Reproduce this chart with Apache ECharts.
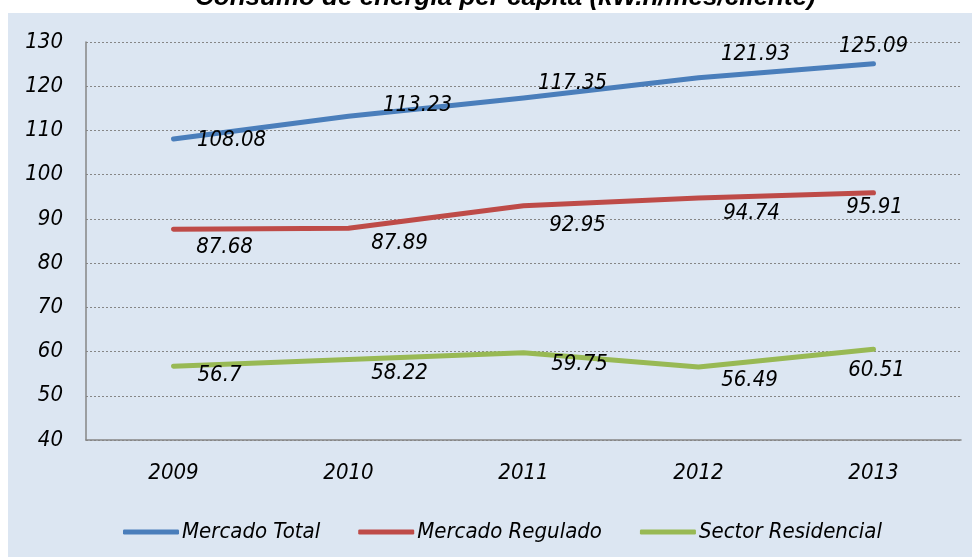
<!DOCTYPE html>
<html>
<head>
<meta charset="utf-8">
<script src="https://cdn.jsdelivr.net/npm/echarts@6/dist/echarts.min.js"></script>
<style>
html,body{margin:0;padding:0;background:#ffffff;}
#chart{width:972px;height:557px;}
</style>
</head>
<body>
<div id="chart"></div>
<script>
const titleText = 'Consumo de energía per cápita (kW.h/mes/cliente)';
const years = ['2009', '2010', '2011', '2012', '2013'];
const seriesNames = ['Mercado Total', 'Mercado Regulado', 'Sector Residencial'];
const mercadoTotal = [108.08, 113.23, 117.35, 121.93, 125.09];
const mercadoRegulado = [87.68, 87.89, 92.95, 94.74, 95.91];
const sectorResidencial = [56.7, 58.22, 59.75, 56.49, 60.51];
const yMin = 40, yMax = 130, yStep = 10;

// label placement (style only)
const labelOffsets = [
  [[58, 1], [69, -11], [49, -15], [57, -23], [0, -17]],
  [[51, 18], [51, 15], [54, 19], [53, 15], [1, 15]],
  [[46, 9], [51, 14], [56, 12], [51, 13], [3, 21]]
];
const colors = ['#4A7EBB', '#BE4B48', '#98B954'];
const FONT = '"DejaVu Sans Condensed", "Liberation Sans Narrow", sans-serif';
const FS = 22;

const allValues = [mercadoTotal, mercadoRegulado, sectorResidencial];

const chart = echarts.init(document.getElementById('chart'), null, {renderer: 'canvas'});

const series = allValues.map((vals, si) => ({
  name: seriesNames[si],
  type: 'line',
  data: vals.map((v, i) => ({
    value: v,
    label: {offset: labelOffsets[si][i]}
  })),
  symbol: 'circle',
  symbolSize: 0.5,
  showSymbol: true,
  itemStyle: {color: colors[si]},
  lineStyle: {color: colors[si], width: 5, cap: 'round', join: 'round'},
  label: {
    show: true,
    position: 'inside',
    align: 'center',
    verticalAlign: 'middle',
    fontFamily: FONT,
    fontStyle: 'italic',
    fontSize: FS,
    color: '#000000',
    formatter: p => String(p.value)
  },
  emphasis: {disabled: true},
  animation: false,
  z: 3
}));

chart.setOption({
  animation: false,
  color: colors,
  graphic: [{
    type: 'rect',
    shape: {x: 8, y: 13, width: 964, height: 544},
    style: {fill: '#DCE6F2'},
    z: -10
  }],
  title: {
    text: titleText,
    left: 190,
    top: -20,
    textStyle: {
      fontFamily: '"Liberation Sans", Arial, sans-serif',
      fontStyle: 'italic',
      fontWeight: 'bold',
      fontSize: 26,
      color: '#000000'
    }
  },
  legend: {
    data: seriesNames.map((n, i) => ({name: n, icon: 'roundRect', itemStyle: {color: colors[i], opacity: 1}})),
    left: 118,
    top: 516,
    itemWidth: 56,
    itemHeight: 5,
    itemGap: 38,
    textStyle: {
      fontFamily: FONT,
      fontStyle: 'italic',
      fontSize: FS,
      color: '#000000',
      padding: [0, 0, 0, -2]
    }
  },
  grid: {left: 86, top: 42, right: 11, bottom: 117, containLabel: false},
  xAxis: {
    type: 'category',
    data: years,
    boundaryGap: true,
    axisLine: {show: true, lineStyle: {color: '#868686', width: 1.5}},
    axisTick: {show: false},
    axisLabel: {
      margin: 22,
      fontFamily: FONT,
      fontStyle: 'italic',
      fontSize: FS,
      color: '#000000'
    },
    splitLine: {show: false}
  },
  yAxis: {
    type: 'value',
    min: yMin,
    max: yMax,
    interval: yStep,
    axisLine: {show: true, lineStyle: {color: '#868686', width: 1.5}},
    axisTick: {show: false},
    axisLabel: {
      margin: 23,
      fontFamily: FONT,
      fontStyle: 'italic',
      fontSize: FS,
      color: '#000000'
    },
    splitLine: {show: true, lineStyle: {color: '#868686', type: [2, 2], width: 1}}
  },
  series: series
});
</script>
</body>
</html>
